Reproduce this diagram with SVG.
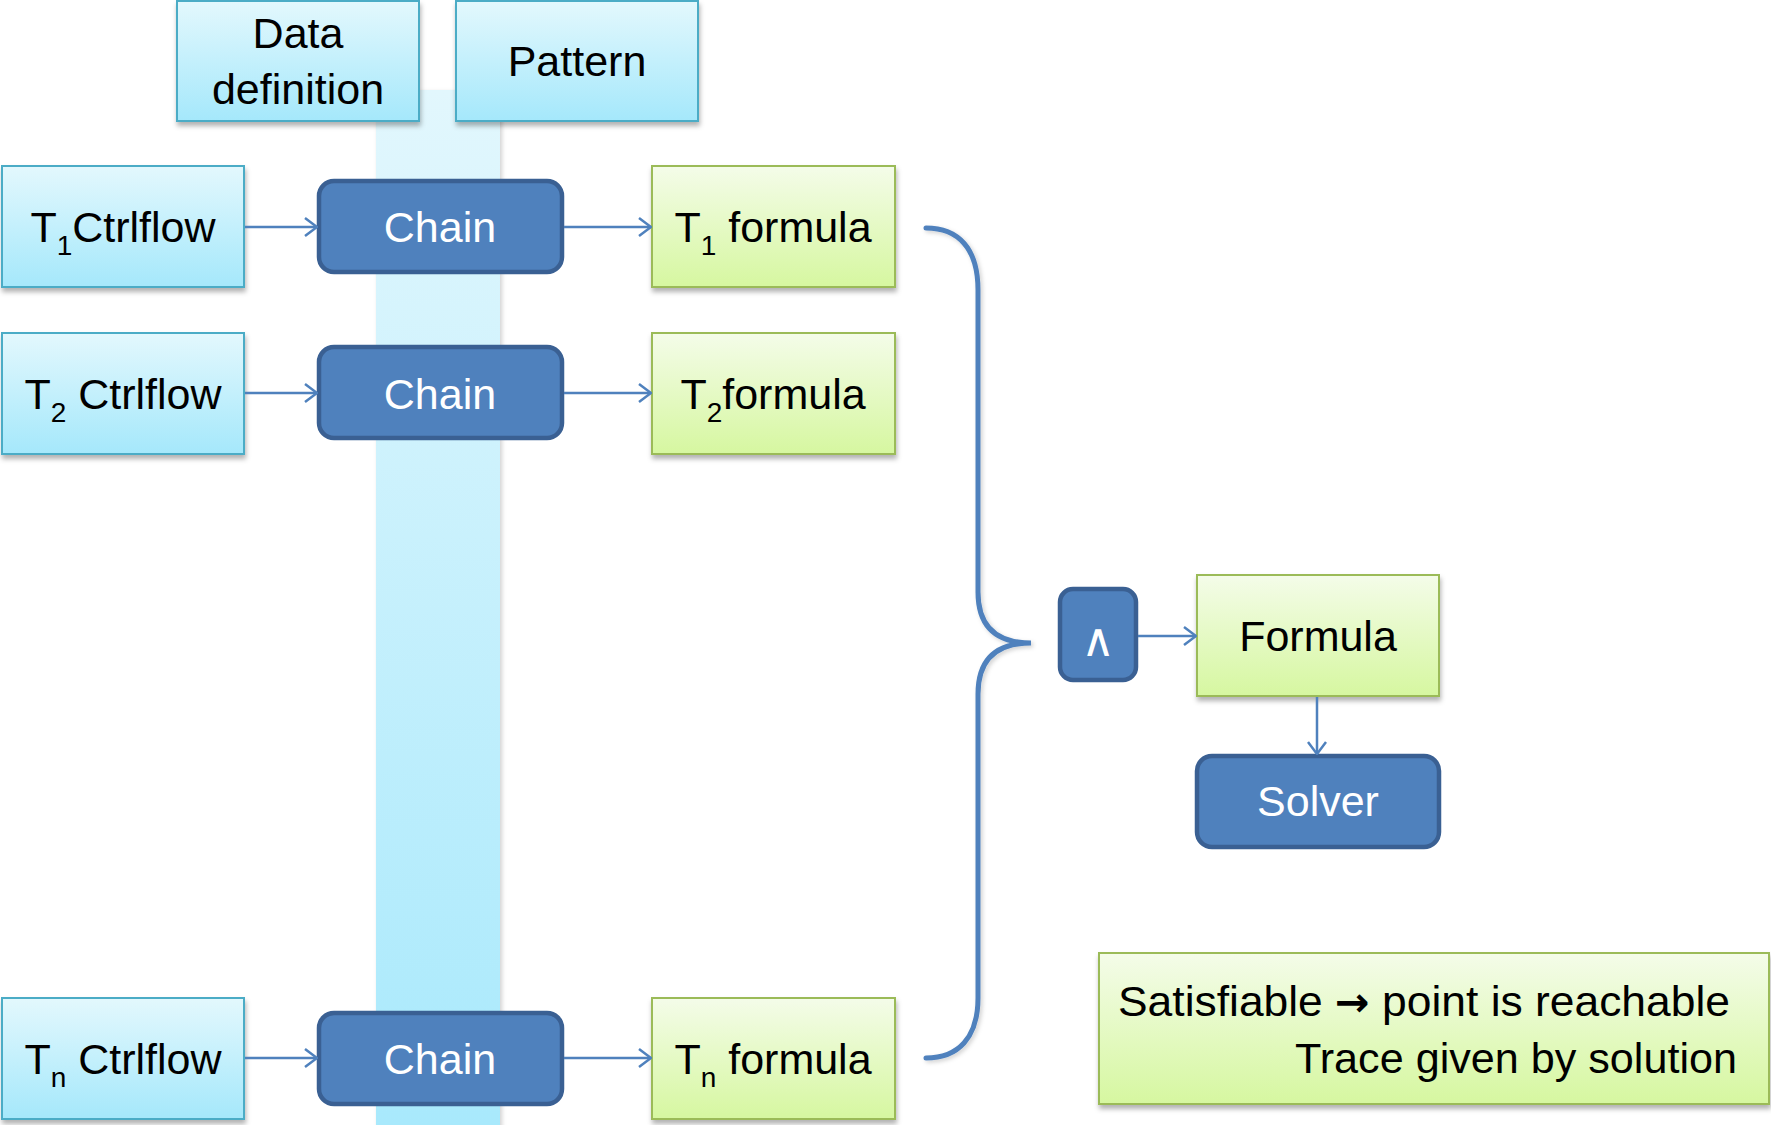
<svg xmlns="http://www.w3.org/2000/svg" width="1771" height="1125" viewBox="0 0 1771 1125">
  <defs>
    <linearGradient id="gBlue" x1="0" y1="0" x2="0" y2="1">
      <stop offset="0" stop-color="#e3f8fd"/>
      <stop offset="1" stop-color="#a5e8fb"/>
    </linearGradient>
    <linearGradient id="gGreen" x1="0" y1="0" x2="0" y2="1">
      <stop offset="0" stop-color="#f4fce9"/>
      <stop offset="1" stop-color="#d6f7a0"/>
    </linearGradient>
    <linearGradient id="gBand" x1="0" y1="0" x2="0" y2="1">
      <stop offset="0" stop-color="#e2f7fd"/>
      <stop offset="1" stop-color="#a8e9fc"/>
    </linearGradient>
    <filter id="shadow" x="-10%" y="-10%" width="120%" height="130%">
      <feDropShadow dx="1" dy="4" stdDeviation="2.5" flood-color="#000" flood-opacity="0.3"/>
    </filter>
    <filter id="softShadow" x="-10%" y="-5%" width="120%" height="110%">
      <feDropShadow dx="2" dy="2" stdDeviation="2" flood-color="#000" flood-opacity="0.18"/>
    </filter>
    <marker id="arrow" viewBox="0 0 14 20" refX="13" refY="10" markerWidth="14" markerHeight="20" markerUnits="userSpaceOnUse" orient="auto">
      <path d="M1,1 L13,10 L1,19" fill="none" stroke="#4f81bd" stroke-width="2.5"/>
    </marker>
    <style>
      .light { fill: url(#gBlue); stroke: #4bacc6; stroke-width: 2; filter: url(#shadow); }
      .green { fill: url(#gGreen); stroke: #9bbb59; stroke-width: 2; filter: url(#shadow); }
      .dark { fill: #4f81bd; stroke: #3a6093; stroke-width: 4.5; }
      .lbl { font-family: "Liberation Sans", Arial, sans-serif; font-size: 43px; fill: #000; text-anchor: middle; }
      .wlbl { font-family: "Liberation Sans", Arial, sans-serif; font-size: 43px; fill: #fff; text-anchor: middle; }
      .sub { font-size: 28px; }
      .conn { fill: none; stroke: #4f81bd; stroke-width: 2.5; marker-end: url(#arrow); }
      .brace { fill: none; stroke: #4f81bd; stroke-width: 5; stroke-linecap: round; filter: url(#softShadow); }
    </style>
  </defs>

  <rect width="1771" height="1125" fill="#fff"/>

  <!-- vertical data band behind the chain boxes -->
  <rect x="376" y="90" width="124" height="1040" fill="url(#gBand)" filter="url(#softShadow)"/>

  <!-- header boxes -->
  <g id="data-definition">
    <rect class="light" x="177" y="1" width="242" height="120"/>
    <text class="lbl" x="298" y="48">Data</text>
    <text class="lbl" x="298" y="104">definition</text>
  </g>
  <g id="pattern">
    <rect class="light" x="456" y="1" width="242" height="120"/>
    <text class="lbl" x="577" y="76">Pattern</text>
  </g>

  <!-- row 1 -->
  <g id="t1-ctrlflow">
    <rect class="light" x="2" y="166" width="242" height="121"/>
    <text class="lbl" x="123" y="242">T<tspan class="sub" dy="13">1</tspan><tspan dy="-13">Ctrlflow</tspan></text>
  </g>
  <g id="chain1">
    <rect class="dark" x="319" y="181" width="243" height="91" rx="15"/>
    <text class="wlbl" x="440" y="242">Chain</text>
  </g>
  <g id="t1-formula">
    <rect class="green" x="652" y="166" width="243" height="121"/>
    <text class="lbl" x="773" y="242">T<tspan class="sub" dy="13">1</tspan><tspan dy="-13"> formula</tspan></text>
  </g>

  <!-- row 2 -->
  <g id="t2-ctrlflow">
    <rect class="light" x="2" y="333" width="242" height="121"/>
    <text class="lbl" x="123" y="409">T<tspan class="sub" dy="13">2</tspan><tspan dy="-13"> Ctrlflow</tspan></text>
  </g>
  <g id="chain2">
    <rect class="dark" x="319" y="347" width="243" height="91" rx="15"/>
    <text class="wlbl" x="440" y="409">Chain</text>
  </g>
  <g id="t2-formula">
    <rect class="green" x="652" y="333" width="243" height="121"/>
    <text class="lbl" x="773" y="409">T<tspan class="sub" dy="13">2</tspan><tspan dy="-13">formula</tspan></text>
  </g>

  <!-- row n -->
  <g id="tn-ctrlflow">
    <rect class="light" x="2" y="998" width="242" height="121"/>
    <text class="lbl" x="123" y="1074">T<tspan class="sub" dy="13">n</tspan><tspan dy="-13"> Ctrlflow</tspan></text>
  </g>
  <g id="chainn">
    <rect class="dark" x="319" y="1013" width="243" height="91" rx="15"/>
    <text class="wlbl" x="440" y="1074">Chain</text>
  </g>
  <g id="tn-formula">
    <rect class="green" x="652" y="998" width="243" height="121"/>
    <text class="lbl" x="773" y="1074">T<tspan class="sub" dy="13">n</tspan><tspan dy="-13"> formula</tspan></text>
  </g>

  <!-- conjunction, combined formula and solver -->
  <g id="and">
    <rect class="dark" x="1060" y="589" width="76" height="91" rx="13"/>
    <text class="wlbl" x="1098" y="656" style="font-family: 'DejaVu Sans ExtraLight', 'DejaVu Sans', sans-serif; font-size: 46px;">∧</text>
  </g>
  <g id="formula">
    <rect class="green" x="1197" y="575" width="242" height="121"/>
    <text class="lbl" x="1318" y="651">Formula</text>
  </g>
  <g id="solver">
    <rect class="dark" x="1197" y="756" width="242" height="91" rx="15"/>
    <text class="wlbl" x="1318" y="816">Solver</text>
  </g>

  <!-- note -->
  <g id="note">
    <rect class="green" x="1099" y="953" width="670" height="151"/>
    <text class="lbl" x="1118" y="1016" style="text-anchor: start;" textLength="612" lengthAdjust="spacingAndGlyphs">Satisfiable <tspan style="font-family: 'DejaVu Sans', sans-serif; font-weight: bold; font-size: 40px;">→</tspan> point is reachable</text>
    <text class="lbl" x="1737" y="1073" style="text-anchor: end;" textLength="442" lengthAdjust="spacingAndGlyphs">Trace given by solution</text>
  </g>

  <!-- connectors -->
  <g id="connectors">
    <line class="conn" x1="245" y1="227" x2="317" y2="227"/>
    <line class="conn" x1="564" y1="227" x2="651" y2="227"/>
    <line class="conn" x1="245" y1="393" x2="317" y2="393"/>
    <line class="conn" x1="564" y1="393" x2="651" y2="393"/>
    <line class="conn" x1="245" y1="1058" x2="317" y2="1058"/>
    <line class="conn" x1="564" y1="1058" x2="651" y2="1058"/>
    <line class="conn" x1="1138" y1="636" x2="1196" y2="636"/>
    <line class="conn" x1="1317" y1="697" x2="1317" y2="754"/>
    <path class="brace" d="M926,228 C958,228 978,248 978,290 L978,592 C978,625 995,643 1031,643 C995,643 978,661 978,694 L978,998 C978,1038 958,1058 926,1058"/>
  </g>
</svg>
